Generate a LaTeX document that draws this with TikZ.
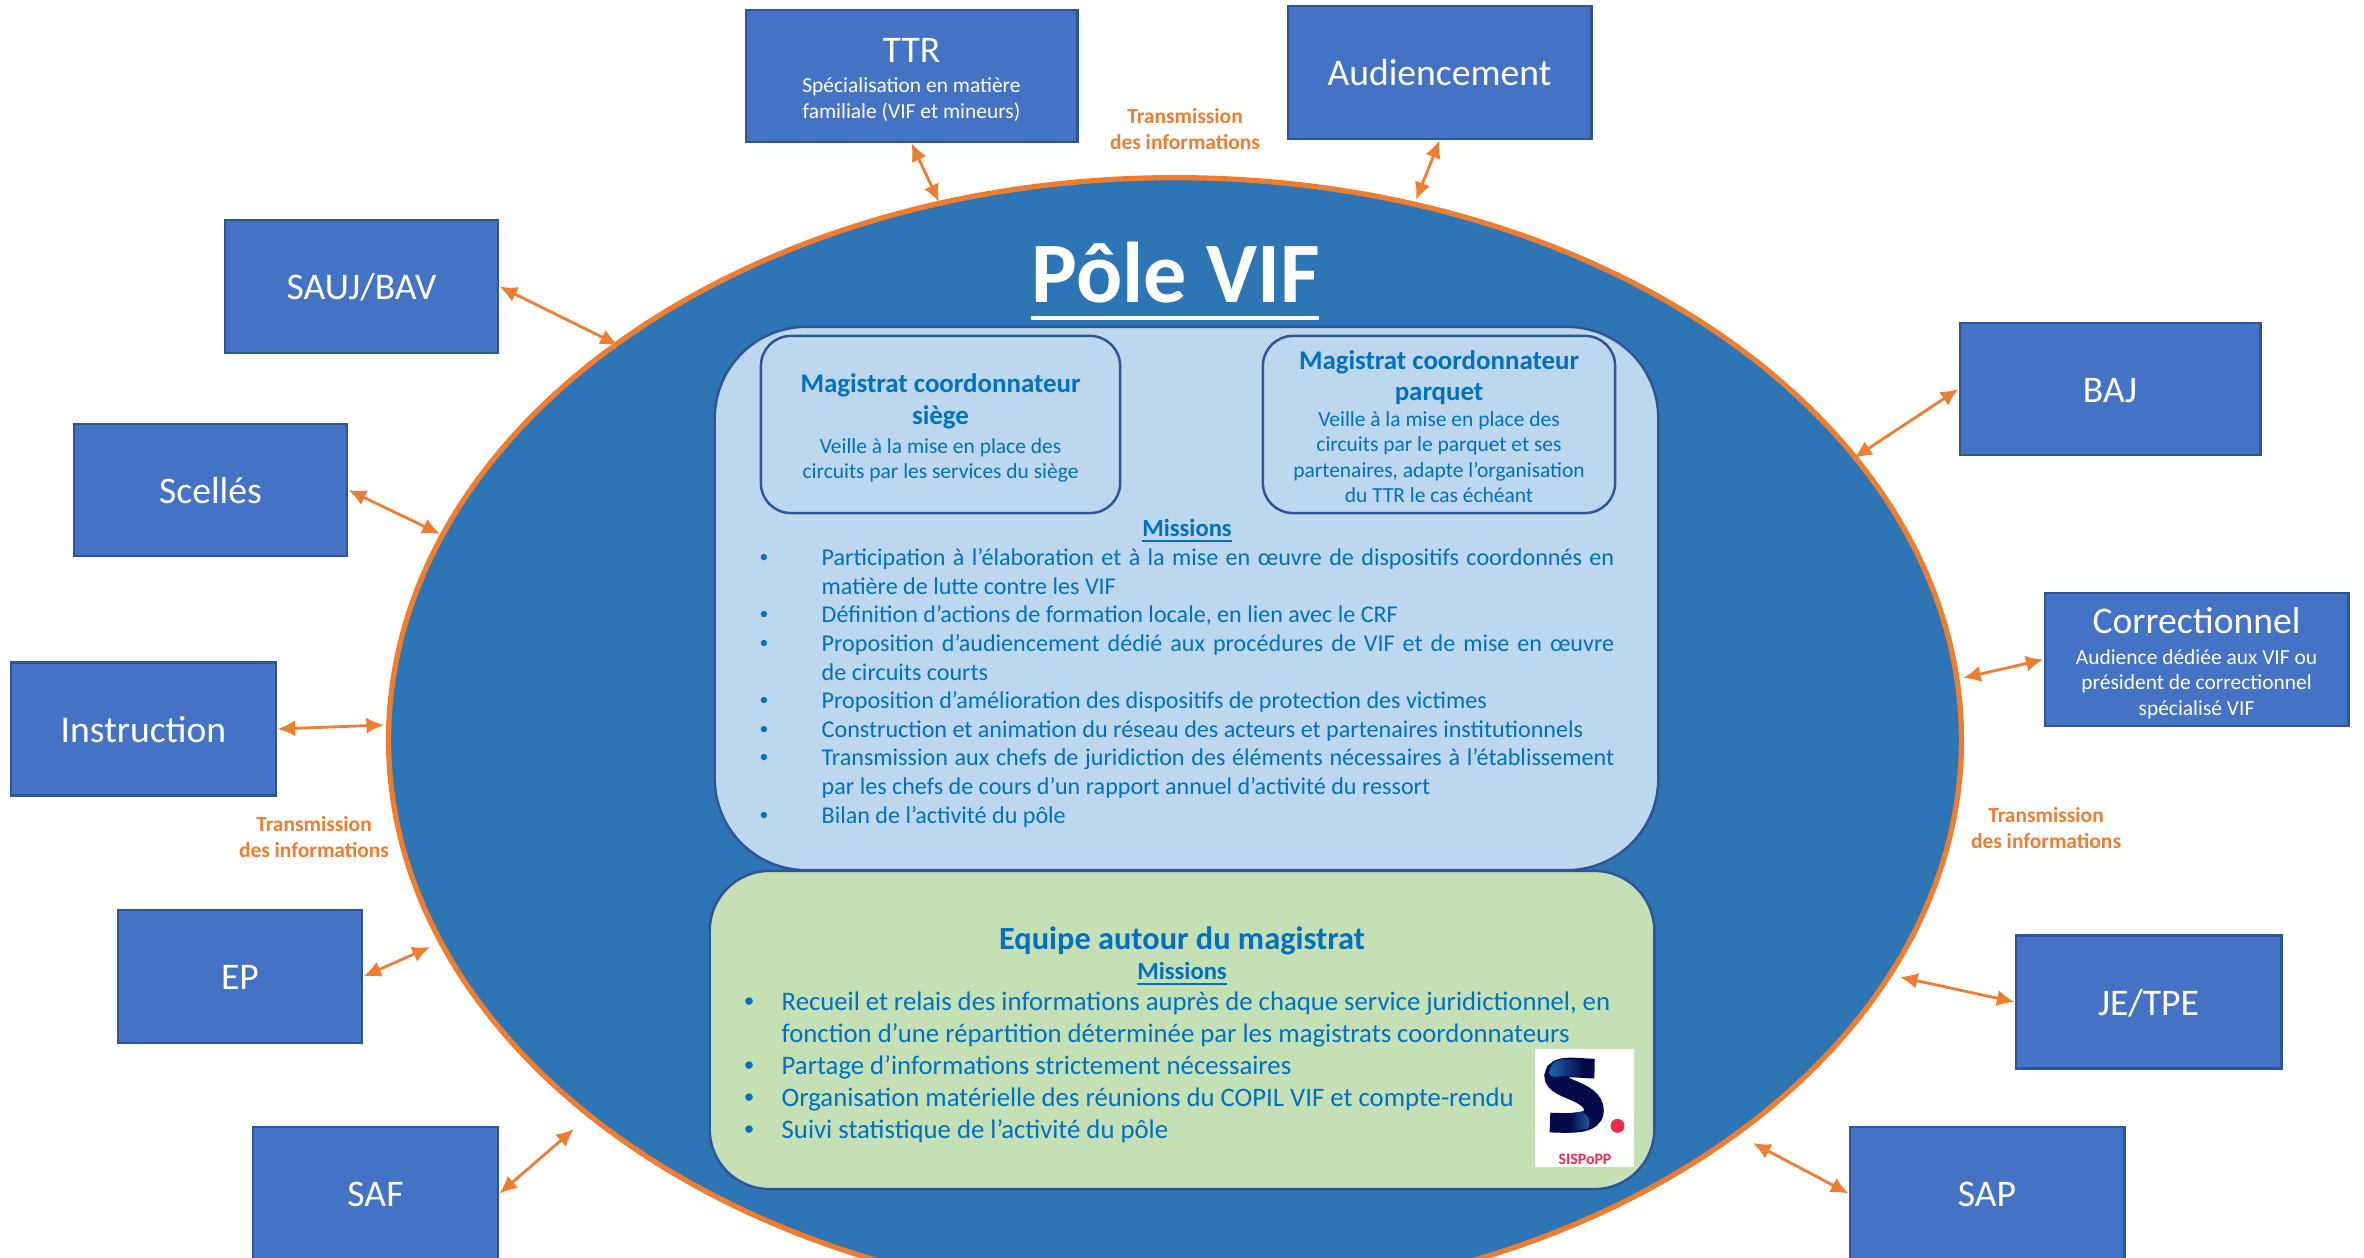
\documentclass[tikz,border=0pt]{standalone}
\usepackage{fontspec}
\setmainfont{Carlito}
\usetikzlibrary{shapes.geometric,arrows.meta}
\definecolor{boxblue}{HTML}{4472C4}
\definecolor{boxline}{HTML}{2F5597}
\definecolor{poleblue}{HTML}{2E75B6}
\definecolor{poleline}{HTML}{ED7D31}
\definecolor{paleblue}{HTML}{BDD7EE}
\definecolor{palegreen}{HTML}{C5E0B4}
\definecolor{inkblue}{HTML}{0070C0}
\definecolor{logonavy}{HTML}{050A4A}
\definecolor{logoblue}{HTML}{1F62AC}
\definecolor{logored}{HTML}{EE2B4F}
\newcommand{\mainfont}{\fontsize{10.7}{12.4}\selectfont}
\newcommand{\subfont}{\fontsize{6.1}{7.25}\selectfont}
\newcommand{\headfont}{\fontsize{7.65}{9}\selectfont\bfseries}
\newcommand{\boxlabel}[1]{\raisebox{-3.8pt}[0pt][0pt]{#1}}
\tikzset{
  service/.style={draw=boxline,fill=boxblue,line width=0.8pt,text=white,inner sep=0pt,align=center,font=\mainfont},
  richservice/.style={service,font=\subfont},
  link/.style={{Latex[length=5pt,width=4.6pt]}-{Latex[length=5pt,width=4.6pt]},draw=poleline,line width=0.8pt},
  transmit/.style={text=poleline,inner sep=0pt,font=\fontsize{6.1}{7.3}\selectfont\bfseries,align=center},
  panel/.style={draw=boxline,line width=0.7pt},
  chief/.style={panel,fill=paleblue,rounded corners=8.5pt,inner sep=0pt,minimum height=1.77cm,text=inkblue,align=center,font=\subfont},
  itemtext/.style={text=inkblue,anchor=north west,inner sep=0pt,align=justify},
  itemdot/.style={text=inkblue,inner sep=0pt},
}
\begin{document}
\begin{tikzpicture}[x=0.01cm,y=-0.01cm]
  \useasboundingbox (0,0) rectangle (2364,1258);
  \clip (0,0) rectangle (2364,1258);
  % central ellipse
  \node[ellipse,draw=poleline,fill=poleblue,line width=1.5pt,inner sep=0pt,minimum width=15.72cm,minimum height=11.24cm] (pole) at (1175,740) {};
  \node[text=white,inner sep=0pt,font=\fontsize{24.5}{30}\selectfont\bfseries] (title) at (1176,273) {Pôle VIF};
  \coordinate (titleleft) at (1031,318);
  \coordinate (titleright) at (1319,318);
  \draw[white,line width=1.1pt] (titleleft) -- (titleright);

  % panels
  \node[panel,fill=paleblue,rounded corners=26pt,inner sep=0pt,minimum width=9.43cm,minimum height=5.43cm] (upper) at (1186.5,598.5) {};
  \node[panel,fill=palegreen,rounded corners=17pt,inner sep=0pt,minimum width=9.44cm,minimum height=3.18cm] (lower) at (1182,1030) {};
  \node[chief,minimum width=3.59cm] (siege) at (940.5,424.5) {\headfont\rule{0pt}{7.5pt}Magistrat coordonnateur\\[1.8pt] \headfont siège\\[0.9pt]Veille à la mise en place des\\circuits par les services du siège};
  \node[chief,minimum width=3.52cm] (parquet) at (1439,424.5) {\headfont\rule{0pt}{6.6pt}Magistrat coordonnateur\\[1.8pt] \headfont parquet\\[0pt]Veille à la mise en place des\\circuits par le parquet et ses\\partenaires, adapte l’organisation\\du TTR le cas échéant};

  % missions of the upper panel
  \node[text=inkblue,inner sep=0pt,font=\fontsize{7}{8}\selectfont\bfseries] (missionsup) at (1187,531) {\underline{Missions}};
  \foreach \y/\n/\txt in {
    545/a/{Participation à l’élaboration et à la mise en œuvre de dispositifs coordonnés en\linebreak matière de lutte contre les VIF},
    602/b/{Définition d’actions de formation locale, en lien avec le CRF},
    631/c/{Proposition d’audiencement dédié aux procédures de VIF et de mise en œuvre\linebreak de circuits courts},
    688/d/{Proposition d’amélioration des dispositifs de protection des victimes},
    717/e/{Construction et animation du réseau des acteurs et partenaires institutionnels},
    745/f/{Transmission aux chefs de juridiction des éléments nécessaires à l’établissement\linebreak par les chefs de cours d’un rapport annuel d’activité du ressort},
    803/g/{Bilan de l’activité du pôle}}{
    \node[itemtext,text width=7.92cm,font=\fontsize{6.85}{8.1}\selectfont] (up\n) at (821,\y) {\strut\txt};
    \node[itemdot,font=\fontsize{5}{6}\selectfont] (updot\n) at (764,\y+13) {•};
  }

  % missions of the lower panel
  \node[text=inkblue,inner sep=0pt,font=\fontsize{9.2}{11}\selectfont\bfseries] (teamhead) at (1182,941) {Equipe autour du magistrat};
  \node[text=inkblue,inner sep=0pt,font=\fontsize{7}{8}\selectfont\bfseries] (missionslow) at (1182,974) {\underline{Missions}};
  \foreach \y/\n/\txt in {
    988/a/{Recueil et relais des informations auprès de chaque service juridictionnel, en\linebreak fonction d’une répartition déterminée par les magistrats coordonnateurs},
    1052/b/{Partage d’informations strictement nécessaires},
    1084/c/{Organisation matérielle des réunions du COPIL VIF et compte-rendu},
    1116/d/{Suivi statistique de l’activité du pôle}}{
    \node[itemtext,text width=8.28cm,font=\fontsize{7.6}{9}\selectfont] (low\n) at (781,\y) {\strut\txt};
    \node[itemdot,font=\fontsize{6}{7}\selectfont] (lowdot\n) at (749,\y+15) {•};
  }

  % logo
  \node[fill=white,inner sep=0pt,minimum width=0.99cm,minimum height=1.18cm] (logo) at (1584.5,1108) {};
  \begin{scope}[shift={(1520,1040)},x=0.00333cm,y=-0.00333cm]
    \draw[logonavy,line width=5.6pt] (224,86) .. controls (180,86) and (105,70) .. (103,108) .. controls (102,150) and (222,150) .. (222,212) .. controls (222,255) and (150,250) .. (90,248);
    \shade[left color=logoblue,right color=logonavy] (88,100) .. controls (90,70) and (110,58) .. (135,58) -- (190,60) -- (190,112) -- (135,108) .. controls (120,108) and (100,120) .. (88,100);
    \shade[left color=logonavy,right color=logoblue] (150,220) -- (185,215) .. controls (205,225) and (215,240) .. (205,265) -- (150,276) -- cycle;
    \fill[logored] (293,258) circle[radius=21];
  \end{scope}
  \node[text=logored,inner sep=0pt,font=\fontsize{4.5}{5}\selectfont\bfseries] (logoname) at (1585,1159) {SISPoPP};

  % services
  \node[richservice,minimum width=3.31cm,minimum height=1.32cm] (ttr) at (911.5,76) {\mainfont\rule{0pt}{9pt}TTR\\[1.3pt]Spécialisation en matière\\familiale (VIF et mineurs)};
  \node[service,minimum width=3.03cm,minimum height=1.33cm] (audience) at (1439.5,72.5) {\boxlabel{Audiencement}};
  \node[service,minimum width=2.73cm,minimum height=1.33cm] (sauj) at (361.5,286.5) {\boxlabel{SAUJ/BAV}};
  \node[service,minimum width=2.73cm,minimum height=1.32cm] (scelles) at (210.5,490) {\boxlabel{Scellés}};
  \node[service,minimum width=2.65cm,minimum height=1.33cm] (instruction) at (143.5,729) {\boxlabel{Instruction}};
  \node[service,minimum width=2.44cm,minimum height=1.33cm] (ep) at (240,976.5) {\boxlabel{EP}};
  \node[service,minimum width=2.45cm,minimum height=1.33cm] (saf) at (375.5,1193.5) {\boxlabel{SAF}};
  \node[service,minimum width=2.74cm,minimum height=1.33cm] (sap) at (1987,1193.5) {\boxlabel{SAP}};
  \node[service,minimum width=2.65cm,minimum height=1.33cm] (jetpe) at (2148.5,1002) {\boxlabel{JE/TPE}};
  \node[richservice,minimum width=3.03cm,minimum height=1.33cm] (correc) at (2196.5,659.5) {\mainfont\rule{0pt}{9.6pt}Correctionnel\\[1.4pt]Audience dédiée aux VIF ou\\président de correctionnel\\spécialisé VIF};
  \node[service,minimum width=3.00cm,minimum height=1.32cm] (baj) at (2110,389) {\boxlabel{BAJ}};

  % free ends of the links, on the border of the ellipse
  \coordinate (ttrend) at (939,202);
  \coordinate (audienceend) at (1416,200);
  \coordinate (saujend) at (618,345);
  \coordinate (scellesend) at (440,534);
  \coordinate (instructionend) at (384,725);
  \coordinate (epend) at (430,947);
  \coordinate (safend) at (574,1129);
  \coordinate (sapend) at (1753,1143);
  \coordinate (jetpeend) at (1900,977);
  \coordinate (correcend) at (1963,678);
  \coordinate (bajend) at (1854,458);
  \draw[link] (ttr.south) -- (ttrend);
  \draw[link] (audience.south) -- (audienceend);
  \draw[link] (sauj.east) -- (saujend);
  \draw[link] (scelles.east) -- (scellesend);
  \draw[link] (instruction.east) -- (instructionend);
  \draw[link] (ep.east) -- (epend);
  \draw[link] (saf.east) -- (safend);
  \draw[link] (sap.west) -- (sapend);
  \draw[link] (jetpe.west) -- (jetpeend);
  \draw[link] (correc.west) -- (correcend);
  \draw[link] (baj.west) -- (bajend);

  \node[transmit] (transtop) at (1185,129) {Transmission\\des informations};
  \node[transmit] (transright) at (2046,828) {Transmission\\des informations};
  \node[transmit] (transleft) at (314,837) {Transmission\\des informations};
\end{tikzpicture}
\end{document}
